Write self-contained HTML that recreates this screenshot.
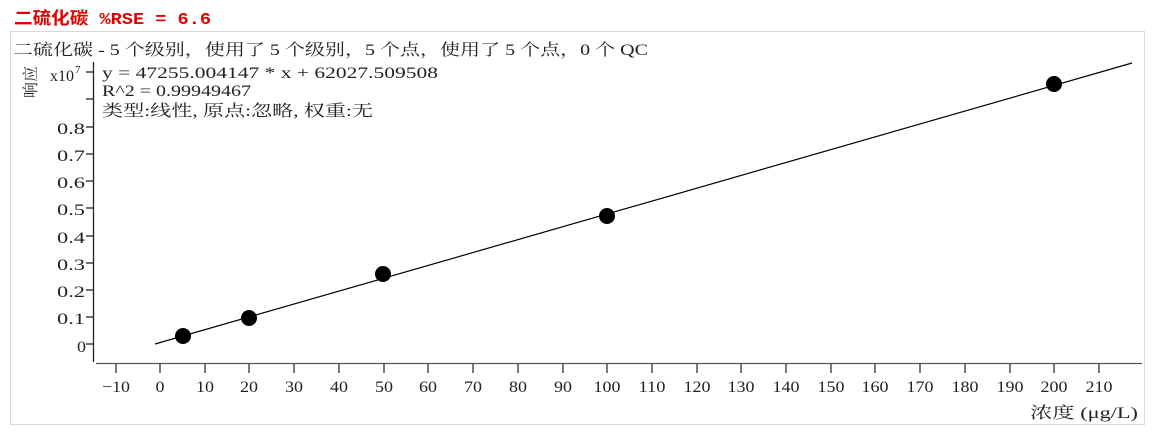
<!DOCTYPE html>
<html><head><meta charset="utf-8"><style>
body{margin:0;background:#fff;width:1157px;height:434px;overflow:hidden}
svg text{font-family:"Liberation Serif","Noto Serif CJK SC",serif;font-size:16px;fill:#222}
</style></head><body>
<svg width="1157" height="434" xmlns="http://www.w3.org/2000/svg">
<text x="14" y="24" textLength="197" lengthAdjust="spacingAndGlyphs" style="font-family:'Liberation Mono','Noto Sans CJK SC',monospace;font-weight:bold;fill:#e00000;font-size:17px">二硫化碳   %RSE = 6.6</text>
<rect x="10.5" y="31.5" width="1134" height="393" fill="none" stroke="#d8d8d8"/>
<text x="13" y="55" textLength="635" lengthAdjust="spacingAndGlyphs">二硫化碳 - 5 个级别，使用了 5 个级别，5 个点，使用了 5 个点，0 个 QC</text>
<text x="0" y="0" transform="translate(36,98) rotate(-90)">响应</text>
<text x="50" y="81">x10</text><text x="75" y="73" style="font-size:11px">7</text>
<text x="102" y="78" textLength="336" lengthAdjust="spacingAndGlyphs">y = 47255.004147 * x  + 62027.509508</text>
<text x="102" y="96" textLength="149" lengthAdjust="spacingAndGlyphs">R^2 = 0.99949467</text>
<text x="102" y="116" textLength="271" lengthAdjust="spacingAndGlyphs">类型:线性, 原点:忽略, 权重:无</text>
<g stroke="#222" stroke-width="1.3">
<line x1="93.5" y1="62" x2="93.5" y2="362"/>
<line x1="96" y1="363.5" x2="1142" y2="363.5" stroke="#555"/>
<line x1="86" y1="72" x2="93" y2="72"/><line x1="86" y1="99" x2="93" y2="99"/>
<line x1="86" y1="127" x2="93" y2="127"/><line x1="86" y1="154" x2="93" y2="154"/>
<line x1="86" y1="181" x2="93" y2="181"/><line x1="86" y1="208" x2="93" y2="208"/>
<line x1="86" y1="236" x2="93" y2="236"/><line x1="86" y1="263" x2="93" y2="263"/>
<line x1="86" y1="290" x2="93" y2="290"/><line x1="86" y1="317" x2="93" y2="317"/>
<line x1="86" y1="344" x2="93" y2="344"/>
</g>
<g style="font-size:17px" lengthAdjust="spacingAndGlyphs">
<text x="57" y="134" textLength="28" lengthAdjust="spacingAndGlyphs">0.8</text><text x="57" y="161" textLength="28" lengthAdjust="spacingAndGlyphs">0.7</text><text x="57" y="188" textLength="28" lengthAdjust="spacingAndGlyphs">0.6</text>
<text x="57" y="215" textLength="28" lengthAdjust="spacingAndGlyphs">0.5</text><text x="57" y="243" textLength="28" lengthAdjust="spacingAndGlyphs">0.4</text><text x="57" y="270" textLength="28" lengthAdjust="spacingAndGlyphs">0.3</text>
<text x="57" y="297" textLength="28" lengthAdjust="spacingAndGlyphs">0.2</text><text x="57" y="324" textLength="28" lengthAdjust="spacingAndGlyphs">0.1</text><text x="77" y="352" textLength="9" lengthAdjust="spacingAndGlyphs">0</text>
</g>
<g stroke="#222" stroke-width="1.2">
<line x1="116" y1="364" x2="116" y2="373"/><line x1="160" y1="364" x2="160" y2="373"/>
<line x1="205" y1="364" x2="205" y2="373"/><line x1="249" y1="364" x2="249" y2="373"/>
<line x1="294" y1="364" x2="294" y2="373"/><line x1="339" y1="364" x2="339" y2="373"/>
<line x1="384" y1="364" x2="384" y2="373"/><line x1="428" y1="364" x2="428" y2="373"/>
<line x1="473" y1="364" x2="473" y2="373"/><line x1="518" y1="364" x2="518" y2="373"/>
<line x1="563" y1="364" x2="563" y2="373"/><line x1="607" y1="364" x2="607" y2="373"/>
<line x1="652" y1="364" x2="652" y2="373"/><line x1="697" y1="364" x2="697" y2="373"/>
<line x1="741" y1="364" x2="741" y2="373"/><line x1="786" y1="364" x2="786" y2="373"/>
<line x1="831" y1="364" x2="831" y2="373"/><line x1="875" y1="364" x2="875" y2="373"/>
<line x1="920" y1="364" x2="920" y2="373"/><line x1="965" y1="364" x2="965" y2="373"/>
<line x1="1010" y1="364" x2="1010" y2="373"/><line x1="1054" y1="364" x2="1054" y2="373"/>
<line x1="1099" y1="364" x2="1099" y2="373"/>
</g>
<g text-anchor="middle" style="font-size:17px">
<text x="116" y="392" textLength="28" lengthAdjust="spacingAndGlyphs">−10</text>
<text x="160" y="392" textLength="9" lengthAdjust="spacingAndGlyphs">0</text>
<text x="205" y="392" textLength="18" lengthAdjust="spacingAndGlyphs">10</text>
<text x="249" y="392" textLength="18" lengthAdjust="spacingAndGlyphs">20</text>
<text x="294" y="392" textLength="18" lengthAdjust="spacingAndGlyphs">30</text>
<text x="339" y="392" textLength="18" lengthAdjust="spacingAndGlyphs">40</text>
<text x="384" y="392" textLength="18" lengthAdjust="spacingAndGlyphs">50</text>
<text x="428" y="392" textLength="18" lengthAdjust="spacingAndGlyphs">60</text>
<text x="473" y="392" textLength="18" lengthAdjust="spacingAndGlyphs">70</text>
<text x="518" y="392" textLength="18" lengthAdjust="spacingAndGlyphs">80</text>
<text x="563" y="392" textLength="18" lengthAdjust="spacingAndGlyphs">90</text>
<text x="607" y="392" textLength="27" lengthAdjust="spacingAndGlyphs">100</text>
<text x="652" y="392" textLength="27" lengthAdjust="spacingAndGlyphs">110</text>
<text x="697" y="392" textLength="27" lengthAdjust="spacingAndGlyphs">120</text>
<text x="741" y="392" textLength="27" lengthAdjust="spacingAndGlyphs">130</text>
<text x="786" y="392" textLength="27" lengthAdjust="spacingAndGlyphs">140</text>
<text x="831" y="392" textLength="27" lengthAdjust="spacingAndGlyphs">150</text>
<text x="875" y="392" textLength="27" lengthAdjust="spacingAndGlyphs">160</text>
<text x="920" y="392" textLength="27" lengthAdjust="spacingAndGlyphs">170</text>
<text x="965" y="392" textLength="27" lengthAdjust="spacingAndGlyphs">180</text>
<text x="1010" y="392" textLength="27" lengthAdjust="spacingAndGlyphs">190</text>
<text x="1054" y="392" textLength="27" lengthAdjust="spacingAndGlyphs">200</text>
<text x="1099" y="392" textLength="27" lengthAdjust="spacingAndGlyphs">210</text>
</g>
<text x="1030" y="418" textLength="108" lengthAdjust="spacingAndGlyphs">浓度 (μg/L)</text>
<line x1="155" y1="344" x2="1132" y2="63" stroke="#000" stroke-width="1.2"/>
<g fill="#000">
<circle cx="183" cy="336" r="8"/><circle cx="249" cy="318" r="8"/><circle cx="383" cy="274" r="8"/>
<circle cx="607" cy="216" r="8"/><circle cx="1054" cy="84" r="8"/>
</g>
</svg>
</body></html>
